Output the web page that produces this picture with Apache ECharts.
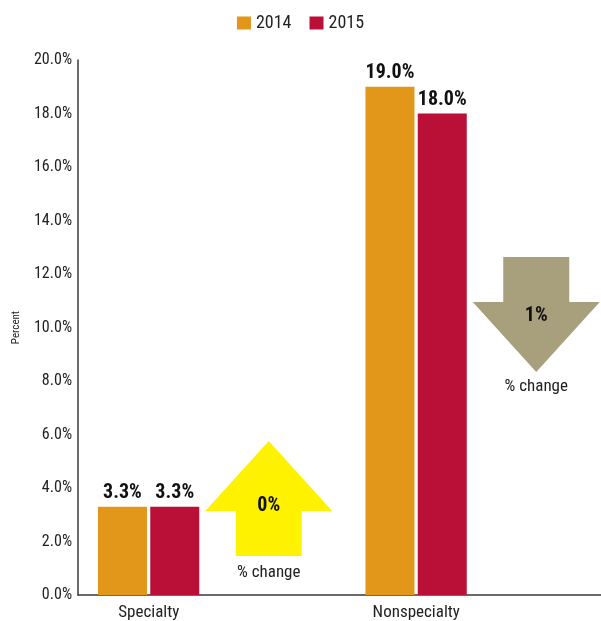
<!DOCTYPE html>
<html>
<head>
<meta charset="utf-8">
<script src="https://cdn.jsdelivr.net/npm/echarts@6/dist/echarts.min.js"></script>
<style>
  html, body { margin: 0; padding: 0; background: #fff; }
  #chart { width: 601px; height: 621px; }
</style>
</head>
<body>
<div id="chart"></div>
<script>
// Share of facilities, by type and year
const categories = ['Specialty', 'Nonspecialty'];
const values2014 = [3.3, 19.0];
const values2015 = [3.3, 18.0];

// Year-over-year change indicators
const changeLabels = ['0%', '1%'];
const changeDirection = ['up', 'down'];

// Prefer a narrow sans face with a regular weight; choose the installed one
// whose width is closest to a condensed grotesque (about 3.4 em for "Specialty").
function pickFamily(candidates, targetEm, fallback) {
  const ctx = document.createElement('canvas').getContext('2d');
  const sample = 'Specialty';
  ctx.font = '100px monospace';
  const base = ctx.measureText(sample).width;
  let best = null, bestDiff = Infinity;
  candidates.forEach(f => {
    ctx.font = '100px "' + f + '", monospace';
    const w = ctx.measureText(sample).width;
    if (Math.abs(w - base) > 0.5) {
      const d = Math.abs(w / 100 - targetEm);
      if (d < bestDiff) { bestDiff = d; best = f; }
    }
  });
  return best ? '"' + best + '", ' + fallback : fallback;
}

const FONT = pickFamily([
  'Liberation Sans Narrow', 'Arial Narrow', 'Roboto Condensed', 'Noto Sans Condensed',
  'Noto Sans SemiCondensed', 'DejaVu Sans Condensed', 'Roboto', 'Lato', 'Liberation Sans'
], 3.41, 'sans-serif');

const ORANGE = '#E2971A';
const RED = '#BA0F37';

// Horizontal shift of the arrow column relative to the category centre
const ARROW_SHIFT = 57;

function renderArrow(params, api) {
  const i = params.dataIndex;
  const cx = api.coord([api.value(0), 0])[0] + ARROW_SHIFT;
  const up = changeDirection[i] === 'up';
  const headH = 70, shaftH = 45, headW = 127, shaftW = 66;
  let points, fill, valueY, captionY;
  if (up) {
    const top = 441;
    const b = top + headH;
    points = [[cx, top], [cx + headW / 2, b], [cx + shaftW / 2, b], [cx + shaftW / 2, b + shaftH],
              [cx - shaftW / 2, b + shaftH], [cx - shaftW / 2, b], [cx - headW / 2, b]];
    fill = '#FFF200';
    valueY = top + 65;
    captionY = b + shaftH + 17;
  } else {
    const top = 257;
    const b = top + shaftH;
    points = [[cx - shaftW / 2, top], [cx + shaftW / 2, top], [cx + shaftW / 2, b], [cx + headW / 2, b],
              [cx, b + headH], [cx - headW / 2, b], [cx - shaftW / 2, b]];
    fill = '#A89F7C';
    valueY = top + 59;
    captionY = b + headH + 15;
  }
  return {
    type: 'group',
    children: [
      { type: 'polygon', shape: { points: points }, style: { fill: fill } },
      { type: 'text', style: { text: changeLabels[i], x: cx, y: valueY, align: 'center', verticalAlign: 'middle',
          font: 'bold 20px ' + FONT, fill: '#111' } },
      { type: 'text', style: { text: '% change', x: cx, y: captionY, align: 'center', verticalAlign: 'middle',
          font: '17px ' + FONT, fill: '#222' } }
    ]
  };
}

const chart = echarts.init(document.getElementById('chart'), null, { renderer: 'canvas' });

const barLabel = {
  show: true,
  position: 'top',
  distance: 4,
  fontFamily: FONT,
  fontWeight: 'bold',
  fontSize: 20,
  color: '#111',
  formatter: p => p.value.toFixed(1) + '%'
};

chart.setOption({
  animation: false,
  backgroundColor: '#fff',
  legend: {
    data: ['2014', '2015'],
    top: 9,
    left: 'center',
    itemWidth: 14,
    itemHeight: 13,
    itemGap: 18,
    icon: 'rect',
    textStyle: { fontFamily: FONT, fontSize: 18, color: '#222' }
  },
  // the category axis runs on past the right edge of the canvas
  grid: { left: 78, width: 535, top: 60, bottom: 26, containLabel: false, outerBoundsMode: 'none' },
  xAxis: {
    type: 'category',
    data: categories,
    axisLine: { show: true, lineStyle: { color: '#3a3a3a', width: 1.5 } },
    axisTick: { show: false },
    axisLabel: {
      fontFamily: FONT, fontSize: 17, color: '#222', margin: 9,
      padding: [0, 126, 0, 0]
    }
  },
  yAxis: {
    type: 'value',
    min: 0,
    max: 20,
    interval: 2,
    name: 'Percent',
    nameLocation: 'middle',
    nameGap: 56,
    nameRotate: 90,
    nameTextStyle: { fontFamily: FONT, fontSize: 11, color: '#222' },
    axisLine: { show: true, lineStyle: { color: '#3a3a3a', width: 1.5 } },
    axisTick: { show: false },
    splitLine: { show: false },
    axisLabel: {
      fontFamily: FONT, fontSize: 16, color: '#222', margin: 6,
      formatter: v => v.toFixed(1) + '%'
    }
  },
  series: [
    {
      name: '2014', type: 'bar', data: values2014, barWidth: 49, barGap: '6.7%',
      itemStyle: { color: ORANGE }, label: barLabel
    },
    {
      name: '2015', type: 'bar', data: values2015, barWidth: 49, barGap: '6.7%',
      itemStyle: { color: RED }, label: barLabel
    },
    {
      // empty slot that reserves room for the change arrows beside the bars
      name: 'arrow-slot', type: 'bar', data: [null, null], barWidth: 123, barGap: '6.7%',
      silent: true, itemStyle: { color: 'transparent' }
    },
    {
      name: 'change', type: 'custom', data: categories.map((c, i) => [i, 0]),
      renderItem: renderArrow, silent: true, z: 1
    }
  ]
});
</script>
</body>
</html>
